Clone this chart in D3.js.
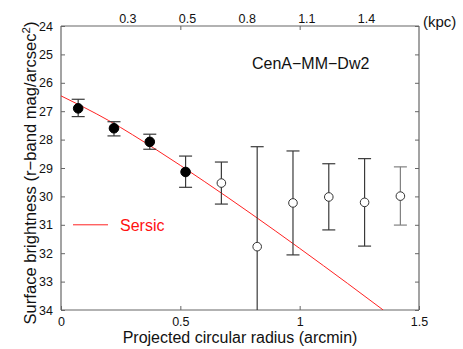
<!DOCTYPE html>
<html><head><meta charset="utf-8">
<script src="https://cdn.jsdelivr.net/npm/d3@7"></script>
<style>body{margin:0;background:#fff}svg{display:block;font-family:"Liberation Sans",Arial,sans-serif}</style>
</head><body><svg id="c" width="463" height="349"></svg>
<script>
// data
const radius = [0.072,0.222,0.372,0.522,0.672,0.822,0.972,1.122,1.272,1.422];
const mu     = [26.90,27.60,28.08,29.14,29.53,31.77,30.23,30.02,30.21,29.99];
const errTop = [26.58,27.37,27.81,28.58,28.79,28.25,28.40,28.85,28.67,28.96];
const errBot = [27.19,27.87,28.34,29.68,30.27,34.60,32.06,31.18,31.75,31.01];
const filled = [true,true,true,true,false,false,false,false,false,false];
const sersicR  = [0,0.2,0.4,0.6,0.8,1.0,1.2,1.35];
const sersicMu = [26.46,27.33,28.36,29.47,30.63,31.83,33.06,34.0];
const xTicks = [0,0.5,1,1.5];
const yTicks = [24,25,26,27,28,29,30,31,32,33,34];
const kpcLabels = ["0.3","0.5","0.8","1.1","1.4"];
const kpcPos = [0.28,0.53,0.78,1.03,1.28];
const topTicks = [0.5,1];

const L=61,R=419,T=26,B=310;
const svg=d3.select("#c");
const x=d3.scaleLinear().domain([0,1.5]).range([L,R]);
const y=d3.scaleLinear().domain([24,34]).range([T,B]);
const axisCol="#666", tl=4;

svg.append("defs").append("clipPath").attr("id","clip")
  .append("rect").attr("x",L).attr("y",T).attr("width",R-L).attr("height",B-T);

// axes
const fmt=d=>d3.format("")(d);
const gB=svg.append("g").attr("transform",`translate(0,${B})`)
  .call(d3.axisBottom(x).tickValues(xTicks).tickSize(-tl).tickPadding(7).tickFormat(fmt));
const gT=svg.append("g").attr("transform",`translate(0,${T})`)
  .call(d3.axisTop(x).tickValues(topTicks).tickSize(-tl).tickFormat(""));
const gL=svg.append("g").attr("transform",`translate(${L},0)`)
  .call(d3.axisLeft(y).tickValues(yTicks).tickSize(-tl).tickPadding(8).tickFormat(fmt));
const gR=svg.append("g").attr("transform",`translate(${R},0)`)
  .call(d3.axisRight(y).tickValues(yTicks).tickSize(-tl).tickFormat(""));
[gB,gT,gL,gR].forEach(g=>{
  g.select(".domain").attr("stroke",axisCol).attr("stroke-width",1.2);
  g.selectAll(".tick line").attr("stroke",axisCol);
  g.selectAll("text").attr("fill","#111").attr("font-size",12.5).attr("font-family","Liberation Sans, Arial, sans-serif");
});
gL.select(".domain").attr("d",`M0,${T}V${B}`);
gR.select(".domain").attr("d",`M0,${T}V${B}`);
gB.select(".domain").attr("d",`M${L},0H${R}`);
gT.select(".domain").attr("d",`M${L},0H${R}`);

// kpc labels on top
svg.append("g").selectAll("text").data(kpcLabels).join("text")
  .attr("x",(d,i)=>x(kpcPos[i])).attr("y",T-3).attr("text-anchor","middle")
  .attr("font-size",12.5).attr("fill","#111").text(d=>d);
svg.append("text").attr("x",423).attr("y",T+1).attr("font-size",15).attr("fill","#111").text("(kpc)");

// sersic curve
const plot=svg.append("g").attr("clip-path","url(#clip)");
plot.append("path").datum(sersicR.map((r,i)=>[r,sersicMu[i]]))
  .attr("fill","none").attr("stroke","#f22").attr("stroke-width",1)
  .attr("d",d3.line().x(d=>x(d[0])).y(d=>y(d[1])).curve(d3.curveMonotoneX));

// error bars
const cap=6.5;
const eb=plot.append("g");
radius.forEach((r,i)=>{
  const col = i===radius.length-1 ? "#808080" : "#3a3a3a";
  const g=eb.append("g").attr("stroke",col).attr("stroke-width",1.2);
  g.append("line").attr("x1",x(r)).attr("x2",x(r)).attr("y1",y(errTop[i])).attr("y2",y(errBot[i]));
  g.append("line").attr("x1",x(r)-cap).attr("x2",x(r)+cap).attr("y1",y(errTop[i])).attr("y2",y(errTop[i]));
  g.append("line").attr("x1",x(r)-cap).attr("x2",x(r)+cap).attr("y1",y(errBot[i])).attr("y2",y(errBot[i]));
});
plot.append("g").selectAll("circle").data(radius).join("circle")
  .attr("cx",d=>x(d)).attr("cy",(d,i)=>y(mu[i]))
  .attr("r",(d,i)=>filled[i]?4.8:4.3)
  .attr("fill",(d,i)=>filled[i]?"#000":"#fff")
  .attr("stroke",(d,i)=>filled[i]?"#000":"#333").attr("stroke-width",1);

// legend
svg.append("line").attr("x1",73).attr("x2",108).attr("y1",y(31)).attr("y2",y(31)).attr("stroke","#f22").attr("stroke-width",1);
svg.append("text").attr("x",120).attr("y",y(31)+6).attr("font-size",16).attr("fill","#f11").text("Sersic");

// galaxy name
svg.append("text").attr("x",252).attr("y",69).attr("font-size",16).attr("fill","#111").text("CenA\u2212MM\u2212Dw2");

// axis titles
svg.append("text").attr("x",(L+R)/2).attr("y",343).attr("text-anchor","middle").attr("font-size",16).attr("fill","#111")
  .text("Projected circular radius (arcmin)");
const yl=svg.append("text").attr("transform","translate(36,173) rotate(-90)").attr("text-anchor","middle").attr("font-size",16.6).attr("fill","#111");
yl.append("tspan").text("Surface brightness (r\u2212band mag/arcsec");
yl.append("tspan").attr("dy",-6).attr("font-size",11.5).text("2");
yl.append("tspan").attr("dy",6).text(")");
</script></body></html>
